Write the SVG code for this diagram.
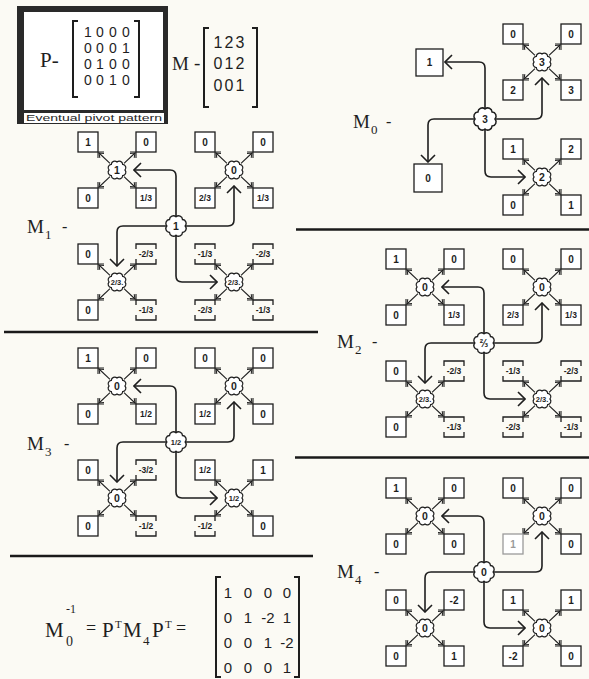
<svg xmlns="http://www.w3.org/2000/svg" xmlns:xlink="http://www.w3.org/1999/xlink" width="589" height="679" viewBox="0 0 589 679">
<style>
.b{fill:#fff;stroke:#1e1e1e;stroke-width:1.3}
.db{fill:none;stroke:#1e1e1e;stroke-width:1.3}
.nd{fill:#fff;stroke:#1e1e1e;stroke-width:1.2}
.t{font-family:"Liberation Sans",Arial,sans-serif;font-weight:bold;font-size:10px;text-anchor:middle;fill:#1e1e1e}
.f{font-size:8.5px}
.n{font-size:10.5px}
.nf{font-size:7.5px}
.s{font-family:"Liberation Serif","Times New Roman",serif;fill:#1e1e1e}
.d{font-family:"Liberation Sans",Arial,sans-serif;fill:#1e1e1e;text-anchor:middle}
.c{fill:none;stroke:#1e1e1e;stroke-width:1.6}
.sep{stroke:#1a1a1a;stroke-width:2.6}
.br{fill:none;stroke:#1e1e1e;stroke-width:2}
</style>
<defs>
<marker id="ah" markerUnits="userSpaceOnUse" viewBox="-1 -1 9 16" refX="7" refY="7" markerWidth="9" markerHeight="16" orient="auto"><path d="M0,0 L7,7 L0,14" fill="none" stroke="#1e1e1e" stroke-width="1.6"/></marker>
<marker id="sa" markerUnits="userSpaceOnUse" viewBox="-1 -1 6 8" refX="4" refY="3" markerWidth="6" markerHeight="8" orient="auto"><path d="M0,0 L4,3 L0,6" fill="none" stroke="#1e1e1e" stroke-width="1"/></marker>
<path id="blob" d="M8,0 A3.4,3.4 0 0 1 5.66,5.66 A3.4,3.4 0 0 1 0,8 A3.4,3.4 0 0 1 -5.66,5.66 A3.4,3.4 0 0 1 -8,0 A3.4,3.4 0 0 1 -5.66,-5.66 A3.4,3.4 0 0 1 0,-8 A3.4,3.4 0 0 1 5.66,-5.66 A3.4,3.4 0 0 1 8,0 Z"/>
<rect id="bx" width="20" height="20"/>
<path id="db" d="M0,5 V0 H20 V5 M0,15 V20 H20 V15"/>
<g id="sk" fill="none" stroke="#1e1e1e" stroke-width="1.1">
<path d="M-19,-18H-13M-19,-18V-12M19,-18H13M19,-18V-12M-19,18H-13M-19,18V12M19,18H13M19,18V12"/>
<path d="M-7,-6.6L-18,-17" marker-end="url(#sa)"/>
<path d="M7,-6.6L18,-17" marker-end="url(#sa)"/>
<path d="M-7,6.6L-18,17" marker-end="url(#sa)"/>
<path d="M7,6.6L18,17" marker-end="url(#sa)"/>
</g>
</defs>
<rect width="589" height="679" fill="#fbfaf4"/>

<!-- P box -->
<g id="pbox">
<rect x="17" y="6" width="151" height="118" fill="#2a2a2a"/>
<rect x="24" y="12" width="139" height="98" fill="#fff"/>
<rect x="24" y="113" width="140" height="10" fill="#fff"/>
<text x="26" y="121" font-family="Liberation Sans, Arial, sans-serif" font-size="8.5" fill="#1e1e1e" textLength="136" lengthAdjust="spacingAndGlyphs">Eventual pivot pattern</text>
<text class="s" x="40" y="67" font-size="21">P-</text>
<path class="br" d="M78,21 H73 V97 H78 M134,21 H139 V97 H134"/>
<g class="d" font-size="14">
<text x="88" y="37">1</text><text x="100" y="37">0</text><text x="113" y="37">0</text><text x="126" y="37">0</text>
<text x="88" y="53">0</text><text x="100" y="53">0</text><text x="113" y="53">0</text><text x="126" y="53">1</text>
<text x="88" y="69">0</text><text x="100" y="69">1</text><text x="113" y="69">0</text><text x="126" y="69">0</text>
<text x="88" y="85">0</text><text x="100" y="85">0</text><text x="113" y="85">1</text><text x="126" y="85">0</text>
</g>
</g>

<!-- M matrix -->
<g id="mmat">
<text class="s" x="172" y="70" font-size="19">M</text>
<text class="s" x="194" y="69" font-size="19">-</text>
<path class="br" d="M209,28 H204 V107 H209 M252,28 H257 V107 H252"/>
<g class="d" font-size="16">
<text x="218" y="48">1</text><text x="229" y="48">2</text><text x="240" y="48">3</text>
<text x="218" y="69">0</text><text x="229" y="69">1</text><text x="240" y="69">2</text>
<text x="218" y="91">0</text><text x="229" y="91">0</text><text x="240" y="91">1</text>
</g>
</g>

<!-- separators -->
<g id="separators">
<line class="sep" x1="296" y1="229.5" x2="589" y2="229.5"/>
<line class="sep" x1="4" y1="332" x2="318" y2="332"/>
<line class="sep" x1="295" y1="457.5" x2="589" y2="457.5"/>
<line class="sep" x1="10" y1="556" x2="313" y2="556"/>
</g>

<!-- labels -->
<g id="labels">
<text class="s" x="353" y="128" font-size="19">M</text><text class="s" x="371" y="134" font-size="13">0</text><text class="s" x="386" y="127" font-size="16">-</text>
<text class="s" x="27" y="233" font-size="19">M</text><text class="s" x="45" y="239" font-size="13">1</text><text class="s" x="62" y="232" font-size="16">-</text>
<text class="s" x="337" y="348" font-size="19">M</text><text class="s" x="355" y="354" font-size="13">2</text><text class="s" x="372" y="347" font-size="16">-</text>
<text class="s" x="27" y="450" font-size="19">M</text><text class="s" x="45" y="456" font-size="13">3</text><text class="s" x="64" y="449" font-size="16">-</text>
<text class="s" x="337" y="578" font-size="19">M</text><text class="s" x="355" y="584" font-size="13">4</text><text class="s" x="374" y="577" font-size="16">-</text>
</g>

<!-- connectors -->
<g id="connectors" class="c">
<path d="M485,108 V68 Q485,62 479,62 H445" marker-end="url(#ah)"/>
<path d="M496,119 H536 Q542,119 542,113 V78" marker-end="url(#ah)"/>
<path d="M474,119 H434 Q428,119 428,125 V162" marker-end="url(#ah)"/>
<path d="M485,130 V171 Q485,177 491,177 H525" marker-end="url(#ah)"/>

<path d="M176,216 V176 Q176,170 170,170 H134" marker-end="url(#ah)"/>
<path d="M186,226 H228 Q234,226 234,220 V186" marker-end="url(#ah)"/>
<path d="M166,226 H123 Q117,226 117,232 V266" marker-end="url(#ah)"/>
<path d="M176,236 V276 Q176,282 182,282 H217" marker-end="url(#ah)"/>

<path d="M484,333 V293 Q484,287 478,287 H442" marker-end="url(#ah)"/>
<path d="M494,343 H536 Q542,343 542,337 V303" marker-end="url(#ah)"/>
<path d="M474,343 H431 Q425,343 425,349 V383" marker-end="url(#ah)"/>
<path d="M484,353 V393 Q484,399 490,399 H525" marker-end="url(#ah)"/>

<path d="M176,432 V392 Q176,386 170,386 H134" marker-end="url(#ah)"/>
<path d="M186,442 H228 Q234,442 234,436 V402" marker-end="url(#ah)"/>
<path d="M166,442 H123 Q117,442 117,448 V482" marker-end="url(#ah)"/>
<path d="M176,452 V492 Q176,498 182,498 H217" marker-end="url(#ah)"/>

<path d="M484,562 V522 Q484,516 478,516 H442" marker-end="url(#ah)"/>
<path d="M494,572 H536 Q542,572 542,566 V532" marker-end="url(#ah)"/>
<path d="M474,572 H431 Q425,572 425,578 V612" marker-end="url(#ah)"/>
<path d="M484,582 V622 Q484,628 490,628 H525" marker-end="url(#ah)"/>
</g>

<!-- M0 -->
<g id="m0-q1" transform="translate(542,62)">
<use href="#sk"/>
<g id="m0-q1-a"><use href="#bx" class="b" x="-39" y="-38"/><text class="t" x="-29" y="-24.5">0</text></g>
<g id="m0-q1-b"><use href="#bx" class="b" x="19" y="-38"/><text class="t" x="29" y="-24.5">0</text></g>
<g id="m0-q1-c"><use href="#bx" class="b" x="-39" y="18"/><text class="t" x="-29" y="31.5">2</text></g>
<g id="m0-q1-d"><use href="#bx" class="b" x="19" y="18"/><text class="t" x="29" y="31.5">3</text></g>
<g id="m0-q1-n"><use href="#blob" class="nd"/><text class="t n" x="0" y="3.5">3</text></g>
</g>
<g id="m0-q2" transform="translate(542,177)">
<use href="#sk"/>
<g id="m0-q2-a"><use href="#bx" class="b" x="-39" y="-38"/><text class="t" x="-29" y="-24.5">1</text></g>
<g id="m0-q2-b"><use href="#bx" class="b" x="19" y="-38"/><text class="t" x="29" y="-24.5">2</text></g>
<g id="m0-q2-c"><use href="#bx" class="b" x="-39" y="18"/><text class="t" x="-29" y="31.5">0</text></g>
<g id="m0-q2-d"><use href="#bx" class="b" x="19" y="18"/><text class="t" x="29" y="31.5">1</text></g>
<g id="m0-q2-n"><use href="#blob" class="nd"/><text class="t n" x="0" y="3.5">2</text></g>
</g>
<g id="m0-b1"><rect class="b" x="416" y="49" width="27" height="27"/><text class="t" x="429.5" y="66">1</text></g>
<g id="m0-b0"><rect class="b" x="414" y="164" width="28" height="28"/><text class="t" x="428" y="181.5">0</text></g>
<g id="m0-c" transform="translate(485,119)"><use href="#blob" class="nd" transform="scale(1.25)"/><text class="t" x="0" y="4" font-size="11">3</text></g>

<!-- M1 -->
<g id="m1-q1" transform="translate(117,170)">
<use href="#sk"/>
<g id="m1-q1-a"><use href="#bx" class="b" x="-39" y="-38"/><text class="t" x="-29" y="-24.5">1</text></g>
<g id="m1-q1-b"><use href="#bx" class="b" x="19" y="-38"/><text class="t" x="29" y="-24.5">0</text></g>
<g id="m1-q1-c"><use href="#bx" class="b" x="-39" y="18"/><text class="t" x="-29" y="31.5">0</text></g>
<g id="m1-q1-d"><use href="#bx" class="b" x="19" y="18"/><text class="t f" x="29" y="31">1/3</text></g>
<g id="m1-q1-n"><use href="#blob" class="nd"/><text class="t n" x="0" y="3.5">1</text></g>
</g>
<g id="m1-q2" transform="translate(234,170)">
<use href="#sk"/>
<g id="m1-q2-a"><use href="#bx" class="b" x="-39" y="-38"/><text class="t" x="-29" y="-24.5">0</text></g>
<g id="m1-q2-b"><use href="#bx" class="b" x="19" y="-38"/><text class="t" x="29" y="-24.5">0</text></g>
<g id="m1-q2-c"><use href="#bx" class="b" x="-39" y="18"/><text class="t f" x="-29" y="31">2/3</text></g>
<g id="m1-q2-d"><use href="#bx" class="b" x="19" y="18"/><text class="t f" x="29" y="31">1/3</text></g>
<g id="m1-q2-n"><use href="#blob" class="nd"/><text class="t n" x="0" y="3.5">0</text></g>
</g>
<g id="m1-q3" transform="translate(117,282)">
<use href="#sk"/>
<g id="m1-q3-a"><use href="#bx" class="b" x="-39" y="-38"/><text class="t" x="-29" y="-24.5">0</text></g>
<g id="m1-q3-b"><use href="#db" class="db" x="19" y="-38"/><text class="t f" x="29" y="-25">-2/3</text></g>
<g id="m1-q3-c"><use href="#bx" class="b" x="-39" y="18"/><text class="t" x="-29" y="31.5">0</text></g>
<g id="m1-q3-d"><use href="#db" class="db" x="19" y="18"/><text class="t f" x="29" y="31">-1/3</text></g>
<g id="m1-q3-n"><use href="#blob" class="nd"/><text class="t nf" x="0" y="3">2/3.</text></g>
</g>
<g id="m1-q4" transform="translate(234,282)">
<use href="#sk"/>
<g id="m1-q4-a"><use href="#db" class="db" x="-39" y="-38"/><text class="t f" x="-29" y="-25">-1/3</text></g>
<g id="m1-q4-b"><use href="#db" class="db" x="19" y="-38"/><text class="t f" x="29" y="-25">-2/3</text></g>
<g id="m1-q4-c"><use href="#db" class="db" x="-39" y="18"/><text class="t f" x="-29" y="31">-2/3</text></g>
<g id="m1-q4-d"><use href="#db" class="db" x="19" y="18"/><text class="t f" x="29" y="31">-1/3</text></g>
<g id="m1-q4-n"><use href="#blob" class="nd"/><text class="t nf" x="0" y="3">2/3.</text></g>
</g>
<g id="m1-c" transform="translate(176,226)"><use href="#blob" class="nd" transform="scale(1.15)"/><text class="t n" x="0" y="3.5">1</text></g>

<!-- M2 -->
<g id="m2-q1" transform="translate(425,287)">
<use href="#sk"/>
<g id="m2-q1-a"><use href="#bx" class="b" x="-39" y="-38"/><text class="t" x="-29" y="-24.5">1</text></g>
<g id="m2-q1-b"><use href="#bx" class="b" x="19" y="-38"/><text class="t" x="29" y="-24.5">0</text></g>
<g id="m2-q1-c"><use href="#bx" class="b" x="-39" y="18"/><text class="t" x="-29" y="31.5">0</text></g>
<g id="m2-q1-d"><use href="#bx" class="b" x="19" y="18"/><text class="t f" x="29" y="31">1/3</text></g>
<g id="m2-q1-n"><use href="#blob" class="nd"/><text class="t n" x="0" y="3.5">0</text></g>
</g>
<g id="m2-q2" transform="translate(542,287)">
<use href="#sk"/>
<g id="m2-q2-a"><use href="#bx" class="b" x="-39" y="-38"/><text class="t" x="-29" y="-24.5">0</text></g>
<g id="m2-q2-b"><use href="#bx" class="b" x="19" y="-38"/><text class="t" x="29" y="-24.5">0</text></g>
<g id="m2-q2-c"><use href="#bx" class="b" x="-39" y="18"/><text class="t f" x="-29" y="31">2/3</text></g>
<g id="m2-q2-d"><use href="#bx" class="b" x="19" y="18"/><text class="t f" x="29" y="31">1/3</text></g>
<g id="m2-q2-n"><use href="#blob" class="nd"/><text class="t n" x="0" y="3.5">0</text></g>
</g>
<g id="m2-q3" transform="translate(425,399)">
<use href="#sk"/>
<g id="m2-q3-a"><use href="#bx" class="b" x="-39" y="-38"/><text class="t" x="-29" y="-24.5">0</text></g>
<g id="m2-q3-b"><use href="#db" class="db" x="19" y="-38"/><text class="t f" x="29" y="-25">-2/3</text></g>
<g id="m2-q3-c"><use href="#bx" class="b" x="-39" y="18"/><text class="t" x="-29" y="31.5">0</text></g>
<g id="m2-q3-d"><use href="#db" class="db" x="19" y="18"/><text class="t f" x="29" y="31">-1/3</text></g>
<g id="m2-q3-n"><use href="#blob" class="nd"/><text class="t nf" x="0" y="3">2/3.</text></g>
</g>
<g id="m2-q4" transform="translate(542,399)">
<use href="#sk"/>
<g id="m2-q4-a"><use href="#db" class="db" x="-39" y="-38"/><text class="t f" x="-29" y="-25">-1/3</text></g>
<g id="m2-q4-b"><use href="#db" class="db" x="19" y="-38"/><text class="t f" x="29" y="-25">-2/3</text></g>
<g id="m2-q4-c"><use href="#db" class="db" x="-39" y="18"/><text class="t f" x="-29" y="31">-2/3</text></g>
<g id="m2-q4-d"><use href="#db" class="db" x="19" y="18"/><text class="t f" x="29" y="31">-1/3</text></g>
<g id="m2-q4-n"><use href="#blob" class="nd"/><text class="t nf" x="0" y="3">2/3.</text></g>
</g>
<g id="m2-c" transform="translate(484,343)"><use href="#blob" class="nd" transform="scale(1.15)"/><text class="t" x="0" y="4" font-family="DejaVu Sans, sans-serif" font-size="10">⅔</text></g>

<!-- M3 -->
<g id="m3-q1" transform="translate(117,386)">
<use href="#sk"/>
<g id="m3-q1-a"><use href="#bx" class="b" x="-39" y="-38"/><text class="t" x="-29" y="-24.5">1</text></g>
<g id="m3-q1-b"><use href="#bx" class="b" x="19" y="-38"/><text class="t" x="29" y="-24.5">0</text></g>
<g id="m3-q1-c"><use href="#bx" class="b" x="-39" y="18"/><text class="t" x="-29" y="31.5">0</text></g>
<g id="m3-q1-d"><use href="#bx" class="b" x="19" y="18"/><text class="t f" x="29" y="31">1/2</text></g>
<g id="m3-q1-n"><use href="#blob" class="nd"/><text class="t n" x="0" y="3.5">0</text></g>
</g>
<g id="m3-q2" transform="translate(234,386)">
<use href="#sk"/>
<g id="m3-q2-a"><use href="#bx" class="b" x="-39" y="-38"/><text class="t" x="-29" y="-24.5">0</text></g>
<g id="m3-q2-b"><use href="#bx" class="b" x="19" y="-38"/><text class="t" x="29" y="-24.5">0</text></g>
<g id="m3-q2-c"><use href="#bx" class="b" x="-39" y="18"/><text class="t f" x="-29" y="31">1/2</text></g>
<g id="m3-q2-d"><use href="#bx" class="b" x="19" y="18"/><text class="t" x="29" y="31.5">0</text></g>
<g id="m3-q2-n"><use href="#blob" class="nd"/><text class="t n" x="0" y="3.5">0</text></g>
</g>
<g id="m3-q3" transform="translate(117,498)">
<use href="#sk"/>
<g id="m3-q3-a"><use href="#bx" class="b" x="-39" y="-38"/><text class="t" x="-29" y="-24.5">0</text></g>
<g id="m3-q3-b"><use href="#db" class="db" x="19" y="-38"/><text class="t f" x="29" y="-25">-3/2</text></g>
<g id="m3-q3-c"><use href="#bx" class="b" x="-39" y="18"/><text class="t" x="-29" y="31.5">0</text></g>
<g id="m3-q3-d"><use href="#db" class="db" x="19" y="18"/><text class="t f" x="29" y="31">-1/2</text></g>
<g id="m3-q3-n"><use href="#blob" class="nd"/><text class="t n" x="0" y="3.5">0</text></g>
</g>
<g id="m3-q4" transform="translate(234,498)">
<use href="#sk"/>
<g id="m3-q4-a"><use href="#bx" class="b" x="-39" y="-38"/><text class="t f" x="-29" y="-25">1/2</text></g>
<g id="m3-q4-b"><use href="#bx" class="b" x="19" y="-38"/><text class="t" x="29" y="-24.5">1</text></g>
<g id="m3-q4-c"><use href="#db" class="db" x="-39" y="18"/><text class="t f" x="-29" y="31">-1/2</text></g>
<g id="m3-q4-d"><use href="#bx" class="b" x="19" y="18"/><text class="t" x="29" y="31.5">0</text></g>
<g id="m3-q4-n"><use href="#blob" class="nd"/><text class="t nf" x="0" y="3">1/2</text></g>
</g>
<g id="m3-c" transform="translate(176,442)"><use href="#blob" class="nd" transform="scale(1.15)"/><text class="t nf" x="0" y="3">1/2</text></g>

<!-- M4 -->
<g id="m4-q1" transform="translate(425,516)">
<use href="#sk"/>
<g id="m4-q1-a"><use href="#bx" class="b" x="-39" y="-38"/><text class="t" x="-29" y="-24.5">1</text></g>
<g id="m4-q1-b"><use href="#bx" class="b" x="19" y="-38"/><text class="t" x="29" y="-24.5">0</text></g>
<g id="m4-q1-c"><use href="#bx" class="b" x="-39" y="18"/><text class="t" x="-29" y="31.5">0</text></g>
<g id="m4-q1-d"><use href="#bx" class="b" x="19" y="18"/><text class="t" x="29" y="31.5">0</text></g>
<g id="m4-q1-n"><use href="#blob" class="nd"/><text class="t n" x="0" y="3.5">0</text></g>
</g>
<g id="m4-q2" transform="translate(542,516)">
<use href="#sk"/>
<g id="m4-q2-a"><use href="#bx" class="b" x="-39" y="-38"/><text class="t" x="-29" y="-24.5">0</text></g>
<g id="m4-q2-b"><use href="#bx" class="b" x="19" y="-38"/><text class="t" x="29" y="-24.5">0</text></g>
<g id="m4-q2-c"><use href="#bx" class="b" x="-39" y="18" style="stroke:#9a9a9a"/><text class="t" x="-29" y="31.5" style="fill:#9a9a9a">1</text></g>
<g id="m4-q2-d"><use href="#bx" class="b" x="19" y="18"/><text class="t" x="29" y="31.5">0</text></g>
<g id="m4-q2-n"><use href="#blob" class="nd"/><text class="t n" x="0" y="3.5">0</text></g>
</g>
<g id="m4-q3" transform="translate(425,628)">
<use href="#sk"/>
<g id="m4-q3-a"><use href="#bx" class="b" x="-39" y="-38"/><text class="t" x="-29" y="-24.5">0</text></g>
<g id="m4-q3-b"><use href="#bx" class="b" x="19" y="-38"/><text class="t" x="29" y="-24.5">-2</text></g>
<g id="m4-q3-c"><use href="#bx" class="b" x="-39" y="18"/><text class="t" x="-29" y="31.5">0</text></g>
<g id="m4-q3-d"><use href="#bx" class="b" x="19" y="18"/><text class="t" x="29" y="31.5">1</text></g>
<g id="m4-q3-n"><use href="#blob" class="nd"/><text class="t n" x="0" y="3.5">0</text></g>
</g>
<g id="m4-q4" transform="translate(542,628)">
<use href="#sk"/>
<g id="m4-q4-a"><use href="#bx" class="b" x="-39" y="-38"/><text class="t" x="-29" y="-24.5">1</text></g>
<g id="m4-q4-b"><use href="#bx" class="b" x="19" y="-38"/><text class="t" x="29" y="-24.5">1</text></g>
<g id="m4-q4-c"><use href="#bx" class="b" x="-39" y="18"/><text class="t" x="-29" y="31.5">-2</text></g>
<g id="m4-q4-d"><use href="#bx" class="b" x="19" y="18"/><text class="t" x="29" y="31.5">0</text></g>
<g id="m4-q4-n"><use href="#blob" class="nd"/><text class="t n" x="0" y="3.5">0</text></g>
</g>
<g id="m4-c" transform="translate(484,572)"><use href="#blob" class="nd" transform="scale(1.15)"/><text class="t n" x="0" y="3.5">0</text></g>

<!-- formula -->
<g id="formula">
<text class="s" x="45" y="637" font-size="21">M</text>
<text class="s" x="66" y="613" font-size="12">-1</text>
<text class="s" x="66" y="646" font-size="14">0</text>
<text class="s" x="86" y="634" font-size="18">=</text>
<text class="s" x="102" y="637" font-size="21">P</text>
<text class="s" x="115" y="628" font-size="11">T</text>
<text class="s" x="123" y="637" font-size="21">M</text>
<text class="s" x="143" y="645" font-size="13">4</text>
<text class="s" x="152" y="637" font-size="21">P</text>
<text class="s" x="165" y="628" font-size="11">T</text>
<text class="s" x="176" y="634" font-size="18">=</text>
<path class="br" d="M221,577 H216 V677 H221 M294,577 H299 V677 H294"/>
<g class="d" font-size="15">
<text x="228" y="598">1</text><text x="248" y="598">0</text><text x="268" y="598">0</text><text x="287" y="598">0</text>
<text x="228" y="623">0</text><text x="248" y="623">1</text><text x="268" y="623">-2</text><text x="287" y="623">1</text>
<text x="228" y="648">0</text><text x="248" y="648">0</text><text x="268" y="648">1</text><text x="287" y="648">-2</text>
<text x="228" y="673">0</text><text x="248" y="673">0</text><text x="268" y="673">0</text><text x="287" y="673">1</text>
</g>
</g>
</svg>
